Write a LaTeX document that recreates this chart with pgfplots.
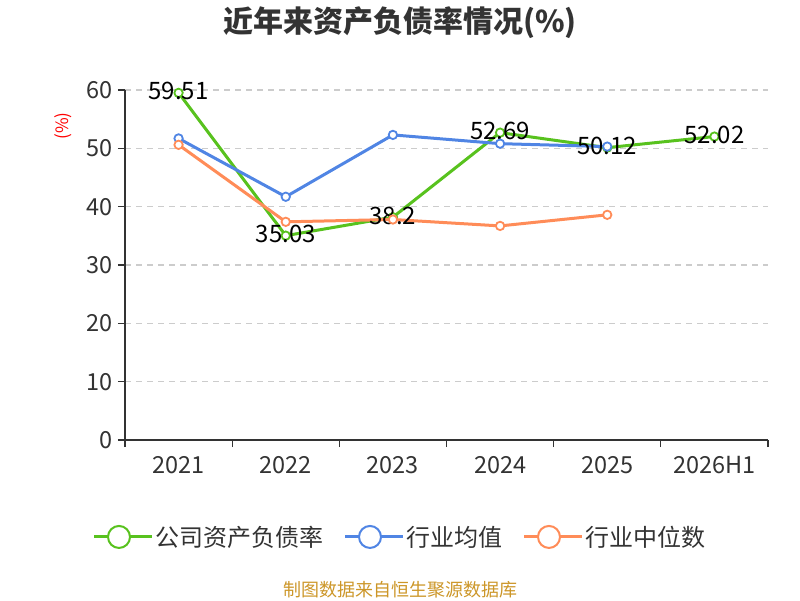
\documentclass[border=0pt]{standalone}
\usepackage{fontspec}
\setmainfont{Noto Sans CJK SC}
\usepackage{pgfplots}
\pgfplotsset{compat=1.18}
\definecolor{cgreen}{RGB}{88,194,30}
\definecolor{cblue}{RGB}{80,133,228}
\definecolor{corange}{RGB}{255,140,88}
\definecolor{ctext}{RGB}{51,51,51}
\definecolor{cgrid}{RGB}{204,204,204}
\definecolor{cfoot}{RGB}{204,150,40}
\begin{document}
\begin{tikzpicture}[x=1pt,y=1pt]
\useasboundingbox (0,0) rectangle (800,600);
\begin{axis}[
  at={(125pt,160pt)}, anchor=south west,
  scale only axis, width=643pt, height=350pt,
  xmin=-0.5, xmax=5.5, ymin=0, ymax=60,
  clip=false,
  axis x line=bottom, axis y line=left,
  axis line style={-, draw=ctext, line width=1.3pt},
  xtick={-0.5,0.5,...,5.5}, xticklabels={},
  extra x ticks={0,1,2,3,4,5},
  extra x tick labels={2021,2022,2023,2024,2025,2026H1},
  extra x tick style={major tick length=0pt, grid=none},
  ytick={0,10,...,60},
  tick align=outside,
  major tick length=7pt,
  tick style={draw=ctext, line width=1.3pt},
  ymajorgrids,
  grid style={cgrid, dash pattern=on 6pt off 5pt, line width=1.2pt},
  /pgf/number format/assume math mode=true,
  tick label style={font=\fontsize{23.5}{23.5}\selectfont, text=ctext},
  xticklabel style={yshift=-13pt},
  yticklabel style={xshift=-2pt},
  every axis plot/.append style={line width=3pt, mark=*, mark size=4.2pt,
     mark options={fill=white, line width=1.8pt}},
  legend columns=3,
  legend style={at={(0.4277,-0.277)}, anchor=center, draw=none, fill=none,
     font=\fontsize{24}{24}\selectfont, text=ctext,
     /tikz/every even column/.append style={column sep=18pt}},
  legend image code/.code={
     \path (0pt,0pt) -- (58pt,0pt);
     \draw[#1, mark=none, line width=2pt] (0pt,0pt) -- (50pt,0pt);
     \draw[#1, mark=none, line width=2pt, fill=white] (25pt,0pt) circle (11pt);
  },
]
\addplot[color=cgreen, nodes near coords, point meta=explicit symbolic,
  every node near coord/.append style={anchor=center, yshift=1.5pt,
     font=\fontsize{24}{24}\selectfont, text=black}]
  coordinates {(0,59.51) [59.51] (1,35.03) [35.03] (2,38.2) [38.2]
               (3,52.69) [52.69] (4,50.12) [50.12] (5,52.02) [52.02]};
\addlegendentry{公司资产负债率}
\addplot[color=cblue]
  coordinates {(0,51.7) (1,41.7) (2,52.3) (3,50.8) (4,50.3)};
\addlegendentry{行业均值}
\addplot[color=corange]
  coordinates {(0,50.6) (1,37.4) (2,37.8) (3,36.7) (4,38.6)};
\addlegendentry{行业中位数}
\end{axis}
\node[font=\fontsize{30}{30}\selectfont\bfseries, text=ctext] at (400,577) {近年来资产负债率情况(\%)};
\node[font=\fontsize{17}{17}\selectfont, text=red, rotate=90] at (63,474) {(\%)};
\node[font=\fontsize{18}{18}\selectfont, text=cfoot] at (400,10) {制图数据来自恒生聚源数据库};
\end{tikzpicture}
\end{document}
